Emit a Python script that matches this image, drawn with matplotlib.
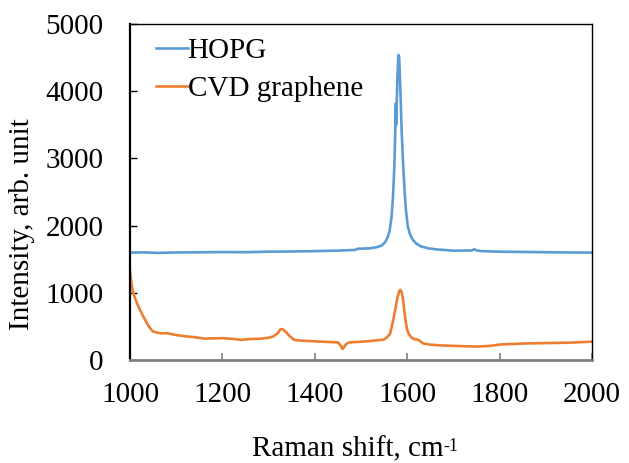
import numpy as np
import matplotlib.pyplot as plt

# wavenumbers / intensities
hopg_x = [1000, 1030, 1060, 1100, 1150, 1200, 1250, 1300, 1350, 1400, 1450, 1488,
          1492, 1520, 1535, 1545, 1552, 1558, 1562, 1566, 1569, 1572, 1574, 1575.5,
          1576, 1577, 1579, 1581, 1582.5, 1584, 1586, 1588, 1591, 1594, 1597, 1601,
          1606, 1612, 1620, 1630, 1645, 1665, 1700, 1740, 1745, 1750, 1760, 1800,
          1850, 1900, 1950, 2000]
hopg_y = [1597, 1602, 1594, 1600, 1603, 1606, 1604, 1612, 1615, 1620, 1628, 1638,
          1655, 1662, 1680, 1705, 1750, 1830, 1930, 2120, 2400, 2850, 3350, 3820,
          3500, 3750, 4250, 4540, 4520, 4250, 3850, 3400, 2950, 2550, 2250, 2000,
          1870, 1790, 1730, 1690, 1662, 1645, 1627, 1630, 1648, 1632, 1620, 1612,
          1608, 1604, 1600, 1598]

cvd_x = [1000, 1002, 1005, 1008, 1012, 1016, 1020, 1025, 1030, 1035, 1040, 1045,
         1050, 1060, 1070, 1080, 1090, 1100, 1120, 1140, 1160, 1180, 1200, 1220,
         1240, 1260, 1280, 1300, 1310, 1320, 1326, 1331, 1337, 1345, 1355, 1370,
         1400, 1430, 1450, 1456, 1460, 1463, 1468, 1475, 1500, 1520, 1535, 1548,
         1555, 1563, 1570, 1575, 1578, 1582, 1585, 1588, 1591, 1594, 1597, 1600,
         1604, 1610, 1616, 1622, 1628, 1635, 1650, 1680, 1710, 1750, 1780, 1800,
         1850, 1900, 1950, 2000]
cvd_y = [1320, 1200, 1060, 980, 900, 830, 770, 700, 630, 570, 510, 460,
         425, 405, 395, 400, 385, 372, 352, 340, 318, 322, 325, 316,
         300, 312, 315, 330, 350, 400, 460, 455, 420, 360, 300, 288,
         278, 268, 262, 215, 165, 190, 240, 262, 272, 282, 295, 300,
         330, 390, 600, 780, 900, 1010, 1045, 1010, 900, 720, 560, 450,
         380, 330, 310, 305, 280, 245, 228, 215, 208, 200, 210, 230,
         245, 252, 258, 272]

labels = ['HOPG', 'CVD graphene']
colors = ['#5B9BD5', '#ED7D31']

plt.rcParams['font.family'] = ['Liberation Serif', 'DejaVu Serif']

fig = plt.figure(figsize=(6.29, 4.63), dpi=100)
ax = fig.add_axes([130 / 629, 1 - 360 / 463, 462 / 629, 336 / 463])

ax.plot(hopg_x, hopg_y, color=colors[0], lw=1.9, label=labels[0])
ax.plot(cvd_x, cvd_y, color=colors[1], lw=1.9, label=labels[1])

ax.set_xlim(1000, 2000)
ax.set_ylim(0, 5000)
ax.set_xticks(np.arange(1000, 2001, 200))
ax.set_yticks(np.arange(0, 5001, 1000))

ax.tick_params(axis='both', direction='in', labelsize=21, length=5)
ax.tick_params(axis='x', pad=16, color='#7f7f7f', width=1.2)
ax.tick_params(axis='y', pad=19, color='black', width=1)

for side in ['top', 'right']:
    ax.spines[side].set_linewidth(1.0)
    ax.spines[side].set_color('black')
ax.spines['left'].set_linewidth(1.6)
ax.spines['bottom'].set_linewidth(2.0)
ax.spines['bottom'].set_color('#808080')

ax.set_xlabel('Raman shift, cm', fontsize=21)
ax.xaxis.set_label_coords(0.472, -0.228)
ax.annotate('-1', xy=(1.0, 1.0), xycoords=ax.xaxis.label, xytext=(0, -1),
            textcoords='offset points', fontsize=13, ha='left', va='top')
ax.set_ylabel('Intensity, arb. unit', fontsize=21)
ax.yaxis.set_label_coords(-0.206, 0.405)

ax.legend(loc='upper left', frameon=False, fontsize=21, handlelength=1.1,
          handletextpad=0.0, labelspacing=0.4, borderaxespad=0.0,
          bbox_to_anchor=(0.03, 0.995))

fig.savefig('out.png', dpi=100)
